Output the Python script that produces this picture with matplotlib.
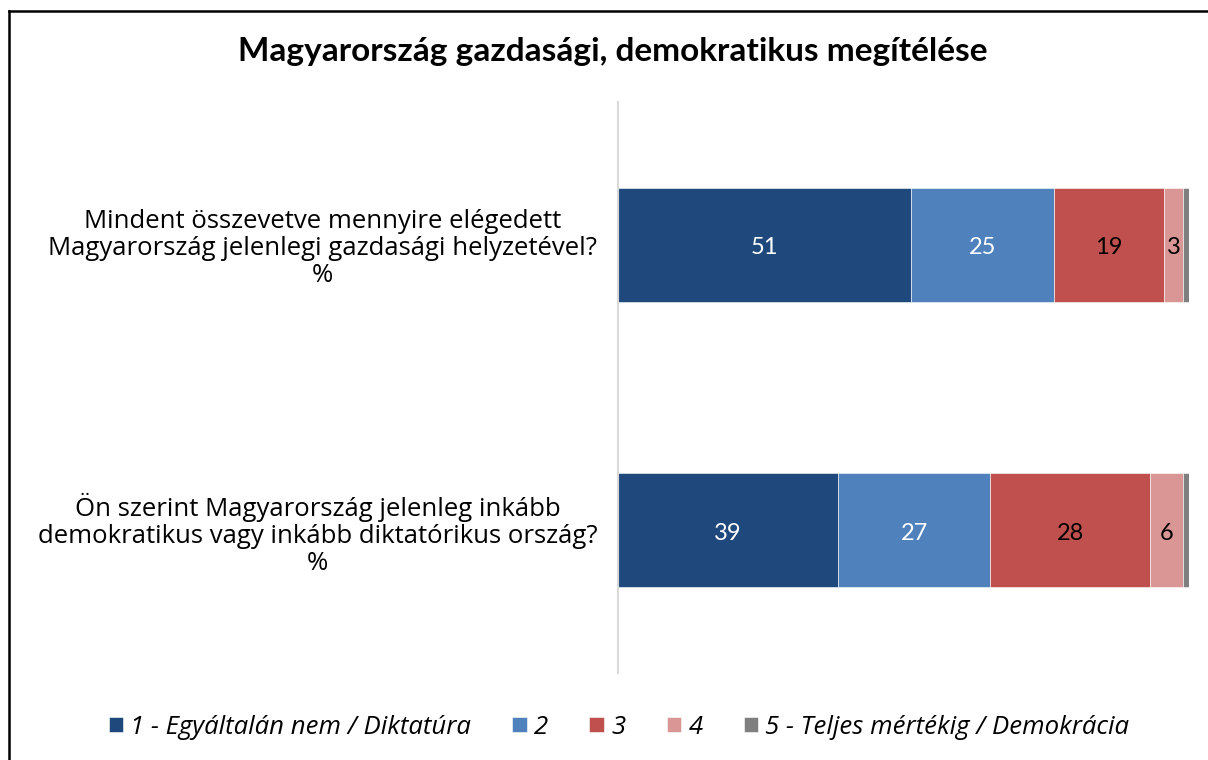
import matplotlib
matplotlib.use('Agg')
import matplotlib.pyplot as plt
import numpy as np

plt.rcParams['font.family'] = ['Open Sans', 'DejaVu Sans']

title = 'Magyarország gazdasági, demokratikus megítélése'
questions = [
    'Mindent összevetve mennyire elégedett\nMagyarország jelenlegi gazdasági helyzetével?\n%',
    'Ön szerint Magyarország jelenleg inkább\ndemokratikus vagy inkább diktatórikus ország?\n%',
]
series_names = ['1 - Egyáltalán nem / Diktatúra', '2', '3', '4',
                '5 - Teljes mértékig / Demokrácia']
values = [
    [51.3, 38.6],   # 1
    [25.0, 26.6],   # 2
    [19.3, 28.0],   # 3
    [3.4, 5.7],     # 4
    [1.0, 1.1],     # 5
]
labels = [
    ['51', '39'],
    ['25', '27'],
    ['19', '28'],
    ['3', '6'],
    ['', ''],
]
colors = ['#1F497D', '#4F81BD', '#C0504D', '#D99694', '#7F7F7F']
label_colors = ['white', 'white', 'black', 'black', 'black']

fig = plt.figure(figsize=(12.08, 7.6), dpi=100)
ax = fig.add_axes([618/1208, 1-673/760, (1189-618)/1208, (673-102)/760])

y = np.arange(len(questions))
left = np.zeros(len(questions))
for i, name in enumerate(series_names):
    v = np.array(values[i])
    bars = ax.barh(y, v, left=left, height=0.4, color=colors[i],
                   edgecolor='#ffffff', linewidth=0.4, label=name)
    for j, b in enumerate(bars):
        if labels[i][j]:
            ax.text(left[j] + v[j]/2, y[j] + 0.01, labels[i][j], ha='center',
                    va='center', fontsize=17, color=label_colors[i],
                    family=['Lato'])
    left += v

ax.set_xlim(0, 100)
ax.set_ylim(1.5, -0.5)
ax.set_yticks(y)
ax.set_yticklabels(questions, fontsize=18.5, multialignment='center',
                   linespacing=1.1)
ax.tick_params(axis='y', length=0, pad=15)
ax.set_xticks([])
for s in ['top', 'right', 'bottom']:
    ax.spines[s].set_visible(False)
ax.spines['left'].set_color('#D9D9D9')
ax.spines['left'].set_linewidth(1.5)

fig.text(613/1208, 1-51/760, title, ha='center', va='center', fontsize=24,
         fontweight='bold', family=['Lato'])

fig.legend(loc='center', bbox_to_anchor=(619/1208, 1-727/760), ncol=5,
           frameon=False, handlelength=0.55, handleheight=0.55, handletextpad=0.3,
           columnspacing=1.6, prop={'style': 'italic', 'size': 18.5})

# border around the figure (left and top edges visible)
fig.add_artist(plt.Line2D([9/1208, 9/1208], [0, 1-11/760], color='black',
                          linewidth=1.8, transform=fig.transFigure))
fig.add_artist(plt.Line2D([9/1208, 1], [1-11/760, 1-11/760], color='black',
                          linewidth=1.8, transform=fig.transFigure))

fig.savefig('out.png', dpi=100)
